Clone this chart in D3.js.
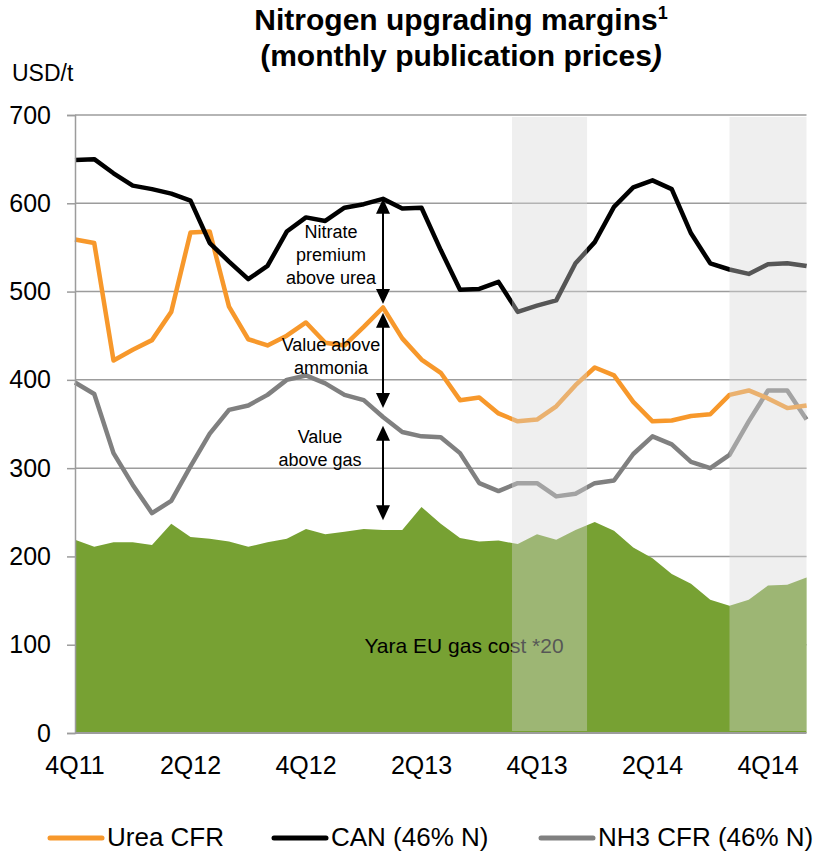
<!DOCTYPE html>
<html>
<head>
<meta charset="utf-8">
<title>Nitrogen upgrading margins</title>
<script src="https://d3js.org/d3.v7.min.js"></script>
<style>
  html, body { margin: 0; background: #fff; }
  svg { display: block; font-family: "Liberation Sans", Arial, sans-serif; }
  .grid line { stroke: #9c9c9c; stroke-width: 1.5; }
  .series { fill: none; stroke-width: 4.5; stroke-linejoin: round; }
  .note { font-size: 18px; fill: #000; text-anchor: middle; }
</style>
</head>
<body>
<div id="chart"></div>
<script>
// monthly publication prices, Oct 2011 - Dec 2014
var months = ["Oct 11","Nov 11","Dec 11",
  "Jan 12","Feb 12","Mar 12","Apr 12","May 12","Jun 12","Jul 12","Aug 12","Sep 12","Oct 12","Nov 12","Dec 12",
  "Jan 13","Feb 13","Mar 13","Apr 13","May 13","Jun 13","Jul 13","Aug 13","Sep 13","Oct 13","Nov 13","Dec 13",
  "Jan 14","Feb 14","Mar 14","Apr 14","May 14","Jun 14","Jul 14","Aug 14","Sep 14","Oct 14","Nov 14","Dec 14"];

var urea = [559, 555, 422, 434, 445, 477, 567, 568, 483, 446, 439, 450, 465, 442, 439, 460, 482, 447, 423, 408,
  377, 380, 362, 353, 355, 370, 394, 414, 405, 375, 353, 354, 359, 361, 383, 388, 379, 368, 371];
var can = [649, 650, 634, 620, 616, 611, 603, 555, 534, 514, 529, 568, 584, 580, 595, 599, 605, 594, 595, 547,
  502, 503, 511, 477, 484, 490, 532, 556, 596, 618, 626, 616, 566, 532, 525, 520, 531, 532, 529];
var nh3 = [397, 384, 317, 281, 249, 263, 302, 339, 366, 371, 383, 400, 405, 396, 383, 377, 358, 341, 336, 335,
  317, 283, 274, 283, 283, 268, 271, 283, 286, 316, 336, 327, 307, 300, 315, 353, 388, 388, 355];
var gasCost = [219, 211, 216, 216, 213, 237, 222, 220, 217, 211, 216, 220, 231, 225, 228, 231, 230, 230, 256, 237,
  221, 217, 218, 214, 225, 219, 230, 239, 229, 210, 198, 180, 169, 151, 144, 151, 167, 168, 176];

var quarterLabels = ["4Q11", "2Q12", "4Q12", "2Q13", "4Q13", "2Q14", "4Q14"];
var quarterMonths = ["Oct 11", "Apr 12", "Oct 12", "Apr 13", "Oct 13", "Apr 14", "Oct 14"];
var yTicks = [0, 100, 200, 300, 400, 500, 600, 700];

// shaded periods (in month index units)
var shaded = [[22.7, 26.6], [34, 38]];

// margin arrows at Feb 13: from / to values
var arrowMonth = "Feb 13";
var arrowFrom = [605, 476, 348];
var arrowTo = [486, 368, 241];

var seriesNames = ["Urea CFR", "CAN (46% N)", "NH3 CFR (46% N)"];
var seriesColors = ["#f7982b", "#000000", "#808080"];
var gasColor = "#77a133";

var width = 819, height = 855;

var svg = d3.select("#chart").append("svg")
  .attr("width", width)
  .attr("height", height);

var x = d3.scaleLinear().domain([0, months.length - 1]).range([75, 806.5]);
var y = d3.scaleLinear().domain([0, 700]).range([733, 115]);
var xm = function(m) { return x(months.indexOf(m)); };

// title
var title = svg.append("text")
  .attr("x", 461).attr("y", 30)
  .attr("text-anchor", "middle")
  .style("font-size", "30px").style("font-weight", "bold");
title.append("tspan").text("Nitrogen upgrading margins");
title.append("tspan").attr("dy", -11).style("font-size", "18px").text("1");
var title2 = svg.append("text")
  .attr("x", 461).attr("y", 66)
  .attr("text-anchor", "middle")
  .style("font-size", "30px").style("font-weight", "bold");
title2.append("tspan").text("(monthly publication prices");
title2.append("tspan").style("font-style", "italic").text(")");

svg.append("text")
  .attr("x", 12).attr("y", 81)
  .style("font-size", "23px")
  .text("USD/t");

// gridlines
svg.append("g").attr("class", "grid")
  .selectAll("line")
  .data(yTicks.slice(1))
  .enter().append("line")
    .attr("x1", x(0)).attr("x2", x(months.length - 1))
    .attr("y1", function(d) { return y(d); })
    .attr("y2", function(d) { return y(d); });

// gas cost area
var area = d3.area()
  .x(function(d, i) { return x(i); })
  .y0(y(0))
  .y1(function(d) { return y(d); });
svg.append("path")
  .datum(gasCost)
  .attr("fill", gasColor)
  .attr("d", area);

// price lines
var line = d3.line()
  .x(function(d, i) { return x(i); })
  .y(function(d) { return y(d); });
[nh3, urea, can].forEach(function(s) {
  var k = s === urea ? 0 : s === can ? 1 : 2;
  svg.append("path")
    .datum(s)
    .attr("class", "series")
    .attr("stroke", seriesColors[k])
    .attr("d", line);
});

// double-headed arrows
var ax = xm(arrowMonth), hw = 7, hl = 15;
var arrows = svg.append("g");
arrowFrom.forEach(function(v, i) {
  var y1 = y(v), y2 = y(arrowTo[i]);
  arrows.append("line")
    .attr("x1", ax).attr("x2", ax)
    .attr("y1", y1 + hl - 1).attr("y2", y2 - hl + 1)
    .attr("stroke", "#000").attr("stroke-width", 2);
  arrows.append("path")
    .attr("d", "M" + ax + "," + y1 + "L" + (ax - hw) + "," + (y1 + hl) + "L" + (ax + hw) + "," + (y1 + hl) + "Z")
    .attr("fill", "#000");
  arrows.append("path")
    .attr("d", "M" + ax + "," + y2 + "L" + (ax - hw) + "," + (y2 - hl) + "L" + (ax + hw) + "," + (y2 - hl) + "Z")
    .attr("fill", "#000");
});

// annotation texts
function note(lines, cx, cy) {
  var t = svg.append("text").attr("class", "note");
  lines.forEach(function(l, i) {
    t.append("tspan").attr("x", cx).attr("y", cy + i * 23).text(l);
  });
}
note(["Nitrate", "premium", "above urea"], 331, 238);
note(["Value above", "ammonia"], 331, 351);
note(["Value", "above gas"], 320, 443);

svg.append("text")
  .attr("x", 464).attr("y", 653)
  .attr("text-anchor", "middle")
  .style("font-size", "21px")
  .text("Yara EU gas cost *20");

// shaded periods drawn over the data
svg.append("g")
  .selectAll("rect")
  .data(shaded)
  .enter().append("rect")
    .attr("x", function(d) { return x(d[0]); })
    .attr("width", function(d) { return x(d[1]) - x(d[0]); })
    .attr("y", y(700) + 2)
    .attr("height", y(0) - y(700) - 4)
    .attr("fill", "rgb(215,215,215)")
    .attr("fill-opacity", 0.4);

// y axis
var yAxis = svg.append("g")
  .attr("transform", "translate(" + x(0) + ",0)")
  .call(d3.axisLeft(y).tickValues(yTicks).tickSize(8).tickPadding(16));
yAxis.select(".domain").attr("stroke", "#9c9c9c").attr("stroke-width", 1.5);
yAxis.selectAll(".tick line").attr("stroke", "#9c9c9c").attr("stroke-width", 1.5);
yAxis.selectAll(".tick text")
  .attr("fill", "#000")
  .style("font-size", "25px")
  .style("font-family", "'Liberation Sans', Arial, sans-serif");

// x axis line
svg.append("line")
  .attr("x1", x(0)).attr("x2", x(months.length - 1))
  .attr("y1", y(0)).attr("y2", y(0))
  .attr("stroke", "#9c9c9c").attr("stroke-width", 2);

svg.append("g")
  .selectAll("text")
  .data(quarterLabels)
  .enter().append("text")
    .attr("x", function(d, i) { return xm(quarterMonths[i]); })
    .attr("y", 774)
    .attr("text-anchor", "middle")
    .style("font-size", "25px")
    .text(function(d) { return d; });

// legend
var legendX = [50, 274, 541];
var legend = svg.append("g").selectAll("g")
  .data(seriesNames)
  .enter().append("g")
    .attr("transform", function(d, i) { return "translate(" + legendX[i] + ",838)"; });
legend.append("line")
  .attr("x1", 0).attr("x2", 52)
  .attr("stroke", function(d, i) { return seriesColors[i]; })
  .attr("stroke-width", 5)
  .attr("stroke-linecap", "round");
legend.append("text")
  .attr("x", 57).attr("y", 8)
  .style("font-size", "26px")
  .text(function(d) { return d; });
</script>
</body>
</html>
